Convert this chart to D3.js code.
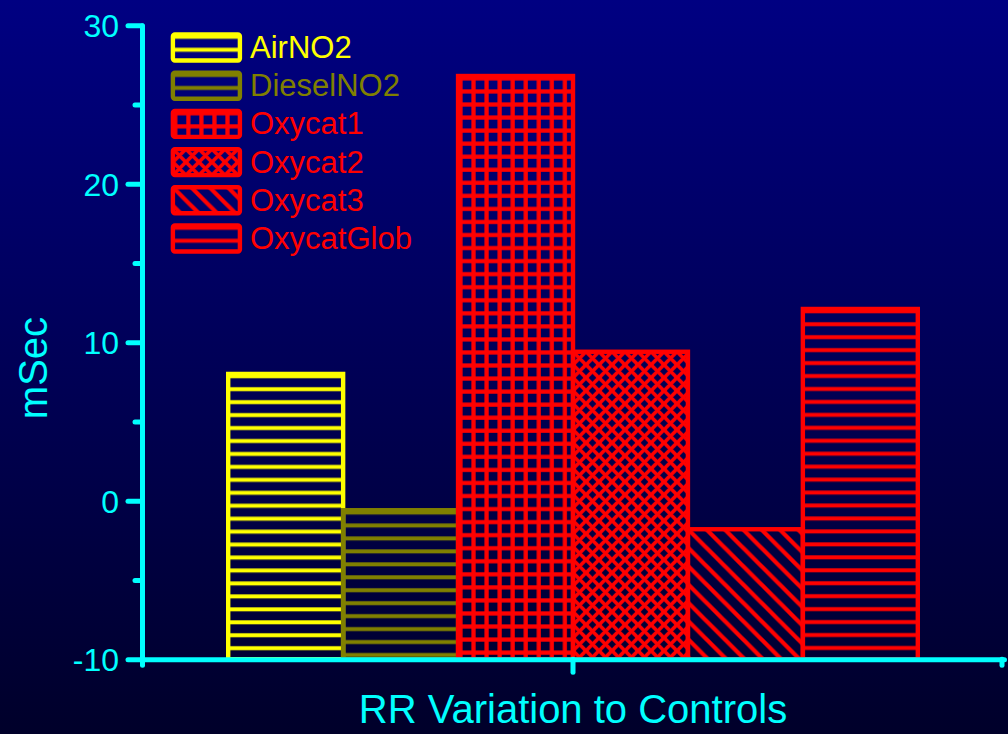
<!DOCTYPE html>
<html>
<head>
<meta charset="utf-8">
<script src="https://cdn.jsdelivr.net/npm/d3@7"></script>
<style>
  html, body { margin: 0; padding: 0; background: #000040; }
  svg { display: block; }
  text { font-family: "Liberation Sans", Arial, Helvetica, sans-serif; }
</style>
</head>
<body>
<svg id="chart" width="1008" height="734"></svg>
<script>
// ---- data ----
const categories = ["RR Variation to Controls"];
const series = ["AirNO2", "DieselNO2", "Oxycat1", "Oxycat2", "Oxycat3", "OxycatGlob"];
const values = [8.0, -0.6, 26.8, 9.4, -1.8, 12.1];
const seriesColors = ["#FFFF00", "#808000", "#FF0000", "#FF0000", "#FF0000", "#FF0000"];
const seriesPatterns = ["hline", "hline", "grid", "cross", "diag", "hline"];
const yTicks = [-10, 0, 10, 20, 30];
const yTickLabels = ["-10", "0", "10", "20", "30"];
const yMinorTicks = [-5, 5, 15, 25];
const yTitle = "mSec";
const xTitle = "RR Variation to Controls";

// ---- setup ----
const W = 1008, H = 734;
const svg = d3.select("#chart");
const defs = svg.append("defs");
const cyan = "#00FFFF";

const bg = defs.append("linearGradient").attr("id", "bg")
  .attr("x1", 0).attr("y1", 0).attr("x2", 0).attr("y2", 1);
bg.append("stop").attr("offset", "0%").attr("stop-color", "#000082");
bg.append("stop").attr("offset", "100%").attr("stop-color", "#00002a");
svg.append("rect").attr("width", W).attr("height", H).attr("fill", "url(#bg)");

const y = d3.scaleLinear().domain([-10, 30]).range([659.2, 25.3]);
const x0 = d3.scaleBand().domain(categories).range([142, 1004]).paddingInner(0).paddingOuter(0.125);
const x1 = d3.scaleBand().domain(series).range([0, x0.bandwidth()]);

function makePattern(id, type, color, ox, oy) {
  const p = defs.append("pattern").attr("id", id)
    .attr("patternUnits", "userSpaceOnUse")
    .attr("x", ox).attr("y", oy);
  if (type === "hline") {
    p.attr("width", 13).attr("height", 12.95);
    p.append("rect").attr("x", 0).attr("y", 0.3).attr("width", 13).attr("height", 4).attr("fill", color);
  } else if (type === "grid") {
    p.attr("width", 13.05).attr("height", 13.05);
    p.append("rect").attr("x", 0).attr("y", 0.3).attr("width", 13.05).attr("height", 4.2).attr("fill", color);
    p.append("rect").attr("x", 0.3).attr("y", 0).attr("width", 4.2).attr("height", 13.05).attr("fill", color);
  } else if (type === "cross") {
    const s = 13;
    p.attr("width", s).attr("height", s);
    p.append("path")
      .attr("d", `M-2,2 L2,-2 M0,${s} L${s},0 M${s-2},${s+2} L${s+2},${s-2} M-2,${s-2} L2,${s+2} M0,0 L${s},${s} M${s-2},-2 L${s+2},2`)
      .attr("stroke", color).attr("stroke-width", 3.7).attr("fill", "none");
  } else if (type === "diag") {
    const s = 18.3;
    p.attr("width", s).attr("height", s);
    p.append("path")
      .attr("d", `M-3,${s-3} L3,${s+3} M0,0 L${s},${s} M${s-3},-3 L${s+3},3`)
      .attr("stroke", color).attr("stroke-width", 4.2).attr("fill", "none");
  }
  return `url(#${id})`;
}

// ---- bars ----
const base = y.domain()[0];
const barG = svg.append("g");
series.forEach((s, i) => {
  const v = values[i];
  const bx = x0(categories[0]) + x1(s);
  const by = y(v);
  const fill = makePattern("bar" + i, seriesPatterns[i], seriesColors[i], bx, by);
  barG.append("rect")
    .attr("x", bx).attr("y", by)
    .attr("width", x1.bandwidth())
    .attr("height", y(base) - by)
    .attr("fill", fill)
    .attr("stroke", seriesColors[i])
    .attr("stroke-width", 4.4);
});

// ---- axes ----
const axisW = 5;
const yAxis = svg.append("g").attr("transform", "translate(142,0)")
  .call(d3.axisLeft(y).tickValues(yTicks).tickSize(14).tickPadding(9).tickSizeOuter(0)
    .tickFormat((d, i) => yTickLabels[i]));
const yMinor = svg.append("g").attr("transform", "translate(142,0)")
  .call(d3.axisLeft(y).tickValues(yMinorTicks).tickSize(7).tickFormat("").tickSizeOuter(0));
yMinor.select(".domain").remove();
const xAxis = svg.append("g").attr("transform", `translate(0,${y(base)})`)
  .call(d3.axisBottom(x0).tickSize(13).tickFormat("").tickSizeOuter(0));

[yAxis, yMinor, xAxis].forEach(g => {
  g.attr("font-size", null).attr("font-family", null);
  g.selectAll("path.domain").attr("stroke", cyan).attr("stroke-width", axisW).attr("stroke-linecap", "round");
  g.selectAll(".tick line").attr("stroke", cyan).attr("stroke-width", axisW).attr("stroke-linecap", "round");
});
yAxis.selectAll(".tick text")
  .attr("fill", cyan).attr("font-size", 32).attr("dy", "0.355em")
  .style("font-family", '"Liberation Sans", Arial, sans-serif');

// axis end stubs
svg.append("line").attr("x1", 142.5).attr("x2", 142.5).attr("y1", y(base)).attr("y2", y(base) + 6)
  .attr("stroke", cyan).attr("stroke-width", axisW).attr("stroke-linecap", "round");
svg.append("line").attr("x1", 1002).attr("x2", 1002).attr("y1", y(base)).attr("y2", y(base) + 6)
  .attr("stroke", cyan).attr("stroke-width", axisW).attr("stroke-linecap", "round");

// ---- titles ----
svg.append("text").text(xTitle)
  .attr("x", x0(categories[0]) + x0.bandwidth() / 2).attr("y", 722.7)
  .attr("text-anchor", "middle").attr("fill", cyan).attr("font-size", 40);
svg.append("text").text(yTitle)
  .attr("transform", "translate(46.7,368) rotate(-90)")
  .attr("text-anchor", "middle").attr("fill", cyan).attr("font-size", 40);

// ---- legend ----
const legX = 172.9, legY0 = 34.5, legStep = 38.2, swW = 67, swH = 26;
const legG = svg.append("g");
series.forEach((s, i) => {
  const ly = legY0 + i * legStep;
  const fill = makePattern("leg" + i, seriesPatterns[i], seriesColors[i], legX, ly);
  legG.append("rect")
    .attr("x", legX).attr("y", ly).attr("width", swW).attr("height", swH)
    .attr("rx", 2).attr("fill", fill)
    .attr("stroke", seriesColors[i]).attr("stroke-width", 4.4);
  legG.append("text").text(s)
    .attr("x", 250).attr("y", ly + swH / 2 + 10.5)
    .attr("fill", seriesColors[i]).attr("font-size", 31);
});
</script>
</body>
</html>
